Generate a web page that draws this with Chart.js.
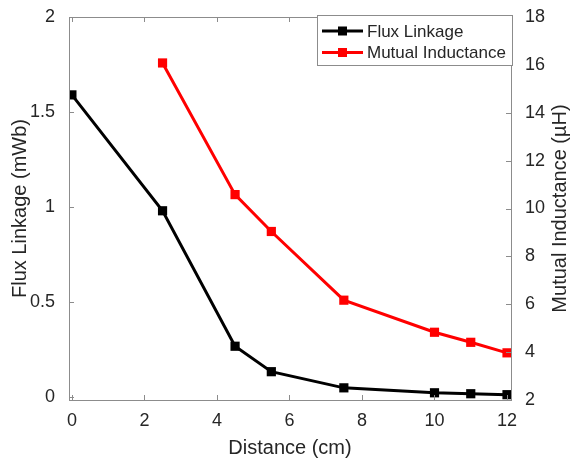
<!DOCTYPE html>
<html>
<head>
<meta charset="utf-8">
<script src="https://cdn.jsdelivr.net/npm/chart.js@4"></script>
<style>
  html, body { margin: 0; padding: 0; background: #fff; }
  #wrap { width: 572px; height: 460px; }
</style>
</head>
<body>
<div id="wrap"><canvas id="fluxChart" width="572" height="460"></canvas></div>
<script>
// ── DATA ─────────────────────────────────────────────────────────────────────
const fluxDistance = [0, 2.5, 4.5, 5.5, 7.5, 10, 11, 12];
const fluxLinkage = [1.59, 0.98, 0.267, 0.133, 0.048, 0.022, 0.017, 0.012];   // mWb

const mutualDistance = [2.5, 4.5, 5.5, 7.5, 10, 11, 12];
const mutualInductance = [16.08, 10.58, 9.04, 6.17, 4.83, 4.41, 3.97];         // µH

const xTicks = [0, 2, 4, 6, 8, 10, 12];
const leftTicks = [0, 0.5, 1, 1.5, 2];
const rightTicks = [2, 4, 6, 8, 10, 12, 14, 16, 18];

const FONT = '"Liberation Sans", Arial, sans-serif';
const FRAME = '#8c8c8c';
const TEXT = '#262626';

// ── PLUGINS ──────────────────────────────────────────────────────────────────
// matlab style box: gray frame, ticks pointing inwards
const boxFrame = {
  id: 'boxFrame',
  afterDatasetsDraw(chart) {
    const { ctx, chartArea: a, scales } = chart;
    ctx.save();
    ctx.strokeStyle = FRAME;
    ctx.lineWidth = 1;
    ctx.beginPath();
    scales.x.ticks.forEach(t => {
      const px = Math.round(scales.x.getPixelForValue(t.value)) + 0.5;
      ctx.moveTo(px, a.bottom); ctx.lineTo(px, a.bottom - 5);
      ctx.moveTo(px, a.top); ctx.lineTo(px, a.top + 5);
    });
    scales.y.ticks.forEach(t => {
      const py = Math.round(scales.y.getPixelForValue(t.value)) + 0.5;
      ctx.moveTo(a.left, py); ctx.lineTo(a.left + 5, py);
    });
    scales.y1.ticks.forEach(t => {
      const py = Math.round(scales.y1.getPixelForValue(t.value)) + 0.5;
      ctx.moveTo(a.right, py); ctx.lineTo(a.right - 5, py);
    });
    ctx.stroke();
    ctx.strokeRect(a.left + 0.5, a.top + 0.5, a.right - a.left, a.bottom - a.top);
    ctx.restore();
  },
  afterDraw(chart) {
    const { ctx, chartArea: a } = chart;
    // right axis title reads bottom-to-top like the left one
    ctx.save();
    ctx.translate(560, (a.top + a.bottom) / 2);
    ctx.rotate(-Math.PI / 2);
    ctx.font = '20px ' + FONT;
    ctx.fillStyle = TEXT;
    ctx.textAlign = 'center';
    ctx.textBaseline = 'middle';
    ctx.fillText('Mutual Inductance (µH)', 0, 0);
    ctx.restore();

    // legend box in the upper right corner
    const lx = 317, ly = 15, lw = 195, lh = 50;
    ctx.save();
    ctx.fillStyle = '#fff';
    ctx.fillRect(lx, ly, lw, lh);
    ctx.strokeStyle = FRAME;
    ctx.lineWidth = 1;
    ctx.strokeRect(lx + 0.5, ly + 0.5, lw, lh);
    ctx.font = '17px ' + FONT;
    ctx.textBaseline = 'middle';
    chart.data.datasets.forEach((ds, i) => {
      const cy = ly + 16 + i * 21.5;
      ctx.strokeStyle = ds.borderColor;
      ctx.lineWidth = 3;
      ctx.beginPath(); ctx.moveTo(lx + 5, cy); ctx.lineTo(lx + 46, cy); ctx.stroke();
      ctx.fillStyle = ds.borderColor;
      ctx.fillRect(lx + 21, cy - 4.5, 9, 9);
      ctx.fillStyle = TEXT;
      ctx.fillText(ds.label, lx + 50, cy + 1);
    });
    ctx.restore();
  }
};

function fixTicks(values) {
  return scale => { scale.ticks = values.map(v => ({ value: v })); };
}
const plainLabel = v => String(v);

// ── CHART ────────────────────────────────────────────────────────────────────
new Chart(document.getElementById('fluxChart'), {
  type: 'line',
  data: {
    datasets: [{
      label: 'Flux Linkage',
      data: fluxDistance.map((d, i) => ({ x: d, y: fluxLinkage[i] })),
      yAxisID: 'y',
      borderColor: '#000', backgroundColor: '#000',
      borderWidth: 3, pointStyle: 'rect', pointRadius: 6.5, pointBorderWidth: 0
    }, {
      label: 'Mutual Inductance',
      data: mutualDistance.map((d, i) => ({ x: d, y: mutualInductance[i] })),
      yAxisID: 'y1',
      borderColor: '#ff0000', backgroundColor: '#ff0000',
      borderWidth: 3, pointStyle: 'rect', pointRadius: 6.5, pointBorderWidth: 0
    }]
  },
  options: {
    responsive: false, animation: false,
    layout: { padding: { top: 17, right: 0, bottom: 0, left: 0 } },
    plugins: { legend: { display: false }, tooltip: { enabled: false } },
    scales: {
      x: {
        type: 'linear', min: -0.08, max: 12.11,
        afterBuildTicks: fixTicks(xTicks),
        afterFit: s => { s.height = 60; },
        grid: { display: false }, border: { display: false },
        ticks: { color: TEXT, font: { family: FONT, size: 18 }, padding: 2, maxRotation: 0, callback: plainLabel },
        title: { display: true, text: 'Distance (cm)', color: TEXT, font: { family: FONT, size: 20 }, padding: { top: 0, bottom: 0 } }
      },
      y: {
        position: 'left', min: -0.016, max: 2,
        afterBuildTicks: fixTicks(leftTicks),
        afterFit: s => { s.width = 69; },
        grid: { display: false }, border: { display: false },
        ticks: { color: TEXT, font: { family: FONT, size: 18 }, padding: 6, callback: plainLabel },
        title: { display: true, text: 'Flux Linkage (mWb)', color: TEXT, font: { family: FONT, size: 20 }, padding: { top: 8, bottom: 0 } }
      },
      y1: {
        position: 'right', min: 2, max: 18,
        afterBuildTicks: fixTicks(rightTicks),
        afterFit: s => { s.width = 61; },
        grid: { display: false }, border: { display: false },
        ticks: { color: TEXT, font: { family: FONT, size: 18 }, padding: 6, callback: plainLabel }
      }
    }
  },
  plugins: [boxFrame]
});
</script>
</body>
</html>
